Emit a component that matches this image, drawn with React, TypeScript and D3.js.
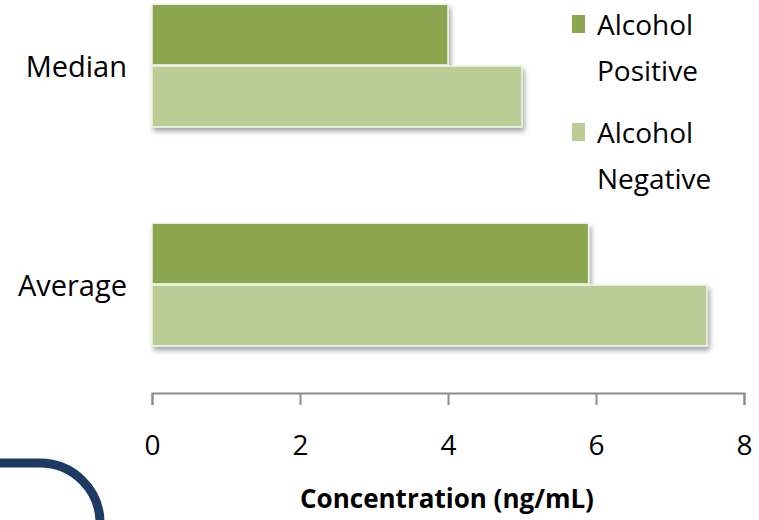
import { useEffect, useRef } from "react";
import * as d3 from "d3";

// chart data
const categories = ["Median", "Average"];
const seriesNames = ["Alcohol Positive", "Alcohol Negative"];
const positiveValues = [4.0, 5.9];
const negativeValues = [5.0, 7.5];
const xTicks = [0, 2, 4, 6, 8];
const colors = ["#8aa650", "#b9cd95"];

export default function App() {
  const ref = useRef<SVGSVGElement>(null);

  const width = 759;
  const height = 520;
  const margin = { left: 152, right: 15 };
  const font = "'Open Sans', 'DejaVu Sans', sans-serif";

  useEffect(() => {
    const svg = d3.select(ref.current);
    svg.selectAll("*").remove();

    const defs = svg.append("defs");
    const f = defs.append("filter").attr("id", "shadow")
      .attr("x", "-5%").attr("y", "-20%").attr("width", "115%").attr("height", "150%");
    f.append("feDropShadow")
      .attr("dx", 2).attr("dy", 4).attr("stdDeviation", 2.5)
      .attr("flood-color", "#000").attr("flood-opacity", 0.35);

    const x = d3.scaleLinear().domain([0, 8]).range([margin.left, 744]);

    const y = d3.scaleBand<string>()
      .domain(categories)
      .range([-44, 394])
      .paddingInner(0.44)
      .paddingOuter(0.22);

    const ySub = d3.scaleBand<string>()
      .domain(seriesNames)
      .range([0, y.bandwidth()])
      .paddingInner(0.02);

    const rows = categories.map((c, i) => ({
      key: c,
      values: [positiveValues[i], negativeValues[i]],
    }));

    const g = svg.selectAll("g.cat")
      .data(rows)
      .enter()
      .append("g")
      .attr("class", "cat")
      .attr("transform", d => `translate(0, ${y(d.key)})`);

    g.selectAll("rect")
      .data(d => d.values.map((v, j) => ({ v, s: seriesNames[j], j })))
      .enter()
      .append("rect")
      .attr("x", x(0))
      .attr("y", d => ySub(d.s)!)
      .attr("width", d => x(d.v) - x(0))
      .attr("height", ySub.bandwidth())
      .attr("fill", d => colors[d.j])
      .attr("stroke", "#eef2e6")
      .attr("stroke-width", 1.5)
      .attr("filter", "url(#shadow)");

    // category labels
    g.append("text")
      .attr("x", 127)
      .attr("y", y.bandwidth() / 2)
      .attr("dy", "0.4em")
      .attr("text-anchor", "end")
      .attr("font-family", font)
      .attr("font-size", 29)
      .attr("fill", "#000")
      .text(d => d.key);

    // x axis
    const axis = svg.append("g")
      .attr("transform", "translate(0, 393)")
      .call(d3.axisBottom(x).tickValues(xTicks).tickSize(12).tickSizeOuter(12).tickPadding(30));
    axis.select(".domain").attr("stroke", "#8c8c8c").attr("stroke-width", 2);
    axis.selectAll(".tick line").attr("stroke", "#8c8c8c").attr("stroke-width", 2);
    axis.selectAll(".tick text")
      .attr("font-family", font)
      .attr("font-size", 28)
      .attr("fill", "#000");

    svg.append("text")
      .attr("x", 447)
      .attr("y", 508)
      .attr("text-anchor", "middle")
      .attr("font-family", font)
      .attr("font-weight", "bold")
      .attr("font-size", 26)
      .attr("fill", "#000")
      .text("Concentration (ng/mL)");

    // legend
    const legend = svg.append("g").attr("transform", "translate(572, 0)");
    const lg = legend.selectAll("g")
      .data(seriesNames)
      .enter()
      .append("g")
      .attr("transform", (_, i) => `translate(0, ${i * 108})`);
    lg.append("rect")
      .attr("x", 0).attr("y", 15)
      .attr("width", 13).attr("height", 18)
      .attr("fill", (_, i) => colors[i]);
    const t = lg.append("text")
      .attr("font-family", font)
      .attr("font-size", 28)
      .attr("fill", "#000");
    t.append("tspan").attr("x", 25).attr("y", 35).text(d => d.split(" ")[0]);
    t.append("tspan").attr("x", 25).attr("y", 81).text(d => d.split(" ")[1]);

    // decorative corner from the slide
    svg.append("path")
      .attr("d", "M -10 463 H 40 A 60 60 0 0 1 100 523 V 540")
      .attr("fill", "none")
      .attr("stroke", "#1c3a62")
      .attr("stroke-width", 9);
  });

  return (
    <div style={{ position: "absolute", left: 0, top: 0 }}>
      <svg ref={ref} width={width} height={height} style={{ display: "block", background: "#fff" }}></svg>
    </div>
  );
}
